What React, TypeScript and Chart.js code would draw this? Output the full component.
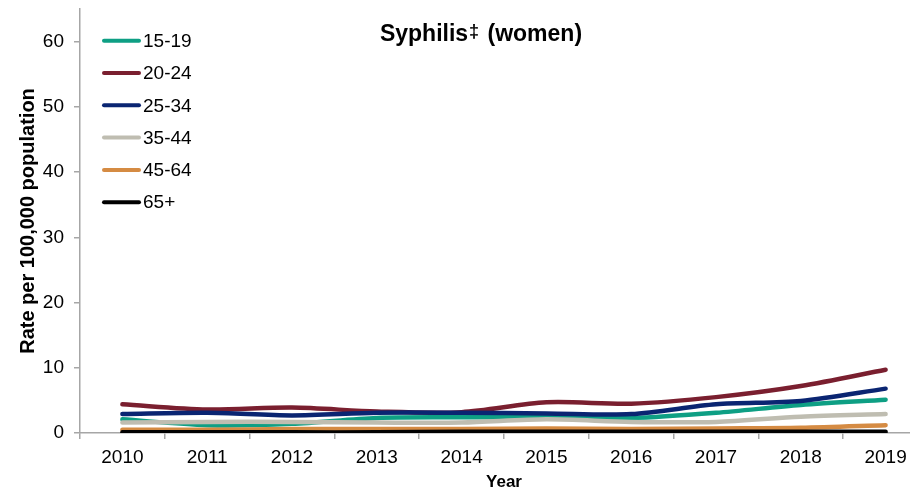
import React, { useEffect, useRef } from 'react';
import { Chart, registerables } from 'chart.js';

Chart.register(...registerables);

const years = ['2010', '2011', '2012', '2013', '2014', '2015', '2016', '2017', '2018', '2019'];
const seriesLabels = ['15-19', '20-24', '25-34', '35-44', '45-64', '65+'];
const age15to19 = [2.1, 1.2, 1.4, 2.3, 2.4, 2.4, 2.3, 3.1, 4.3, 5.1];
const age20to24 = [4.4, 3.6, 3.9, 3.3, 3.2, 4.7, 4.5, 5.5, 7.2, 9.7];
const age25to34 = [2.9, 3.1, 2.7, 3.1, 3.1, 3.0, 2.9, 4.4, 4.9, 6.8];
const age35to44 = [1.6, 1.7, 1.7, 1.6, 1.6, 2.1, 1.7, 1.7, 2.5, 2.9];
const age45to64 = [0.5, 0.5, 0.6, 0.6, 0.6, 0.7, 0.6, 0.7, 0.8, 1.2];
const age65plus = [0.1, 0.1, 0.1, 0.1, 0.2, 0.2, 0.2, 0.2, 0.2, 0.2];
const seriesColors = ['#0e9f84', '#7a1f2f', '#0a2572', '#bfbdb1', '#d58b43', '#000000'];
const chartTitle = 'Syphilis';
const chartTitleMark = '\u2021';
const chartTitleRest = ' (women)';
const yTitle = 'Rate per 100,000 population';
const xTitle = 'Year';

const FONT = "'Liberation Sans', Arial, sans-serif";

const overlayPlugin = {
  id: 'overlay',
  afterDraw(chart: any) {
    const ctx = chart.ctx;
    ctx.save();
    // Title
    ctx.fillStyle = '#000';
    ctx.textBaseline = 'alphabetic';
    ctx.textAlign = 'left';
    const big = 'bold 23px ' + FONT;
    const small = 'bold 18px ' + FONT;
    ctx.font = big;
    const w1 = ctx.measureText(chartTitle).width;
    const w3 = ctx.measureText(chartTitleRest).width;
    ctx.font = small;
    const w2 = ctx.measureText(chartTitleMark).width + 3;
    const total = w1 + w2 + w3;
    let x = 481 - total / 2;
    const base = 40.5;
    ctx.font = big;
    ctx.fillText(chartTitle, x, base);
    x += w1;
    ctx.font = small;
    ctx.fillText(chartTitleMark, x + 1, base - 4);
    x += w2;
    ctx.font = big;
    ctx.fillText(chartTitleRest, x, base);

    // Legend
    const rowY0 = 40.7;
    const rowGap = 32.3;
    ctx.font = '19px ' + FONT;
    ctx.textBaseline = 'middle';
    seriesLabels.forEach((lbl, i) => {
      const y = rowY0 + i * rowGap;
      ctx.strokeStyle = seriesColors[i];
      ctx.lineWidth = 4;
      ctx.lineCap = 'round';
      ctx.beginPath();
      ctx.moveTo(104, y);
      ctx.lineTo(139, y);
      ctx.stroke();
      ctx.fillStyle = '#000';
      ctx.fillText(lbl, 143, y + 1);
    });
    ctx.restore();
  },
};

export default function App() {
  const ref = useRef<HTMLCanvasElement | null>(null);

  useEffect(() => {
    if (!ref.current) return;
    const seriesValues = [age15to19, age20to24, age25to34, age35to44, age45to64, age65plus];
    const n = seriesValues.length;
    const chart = new Chart(ref.current, {
      type: 'line',
      data: {
        labels: years,
        datasets: seriesValues.map((vals, i) => ({
          label: seriesLabels[i],
          data: vals,
          borderColor: seriesColors[i],
          backgroundColor: seriesColors[i],
          borderWidth: 4.5,
          borderCapStyle: 'round' as const,
          borderJoinStyle: 'round' as const,
          pointRadius: 0,
          pointHoverRadius: 0,
          tension: 0.3,
          fill: false,
          order: n - i,
        })),
      },
      options: {
        responsive: false,
        animation: false,
        devicePixelRatio: 1,
        layout: { padding: { left: 0, right: 7, top: 9, bottom: 0 } },
        plugins: {
          legend: { display: false },
          title: { display: false },
          tooltip: { enabled: false },
        },
        scales: {
          x: {
            type: 'category',
            offset: true,
            grid: {
              display: true,
              drawOnChartArea: false,
              drawTicks: true,
              tickLength: 6,
              color: '#a6a6a6',
              lineWidth: 1.5,
              offset: true,
            },
            border: { display: true, color: '#a6a6a6', width: 1.5 },
            ticks: {
              color: '#000',
              font: { family: FONT, size: 19 },
              padding: 7,
              maxRotation: 0,
              autoSkip: false,
            },
            title: {
              display: true,
              text: xTitle,
              color: '#000',
              font: { family: FONT, size: 17, weight: 'bold' },
              padding: { top: 0, bottom: 0 },
            },
            afterFit: (s: any) => {
              s.height = 60;
              s.paddingLeft = 0;
              s.paddingRight = 0;
            },
          },
          y: {
            type: 'linear',
            min: 0,
            max: 65,
            grid: {
              display: true,
              drawOnChartArea: false,
              drawTicks: true,
              tickLength: 6,
              color: '#a6a6a6',
              lineWidth: 1.5,
            },
            border: { display: true, color: '#a6a6a6', width: 1.5 },
            ticks: {
              stepSize: 10,
              includeBounds: false,
              color: '#000',
              font: { family: FONT, size: 19 },
              padding: 10,
            },
            title: {
              display: true,
              text: yTitle,
              color: '#000',
              font: { family: FONT, size: 20, weight: 'bold' },
              padding: { top: 16, bottom: 0 },
            },
            afterFit: (s: any) => {
              s.width = 80;
              s.paddingTop = 0;
              s.paddingBottom = 0;
            },
          },
        },
      },
      plugins: [overlayPlugin],
    });
    return () => chart.destroy();
  }, []);

  return (
    <div
      style={{
        position: 'fixed',
        left: 0,
        top: 0,
        width: 910,
        height: 493,
        overflow: 'hidden',
        background: '#fff',
      }}
    >
      <canvas ref={ref} width={935} height={493} style={{ display: 'block' }} />
    </div>
  );
}
